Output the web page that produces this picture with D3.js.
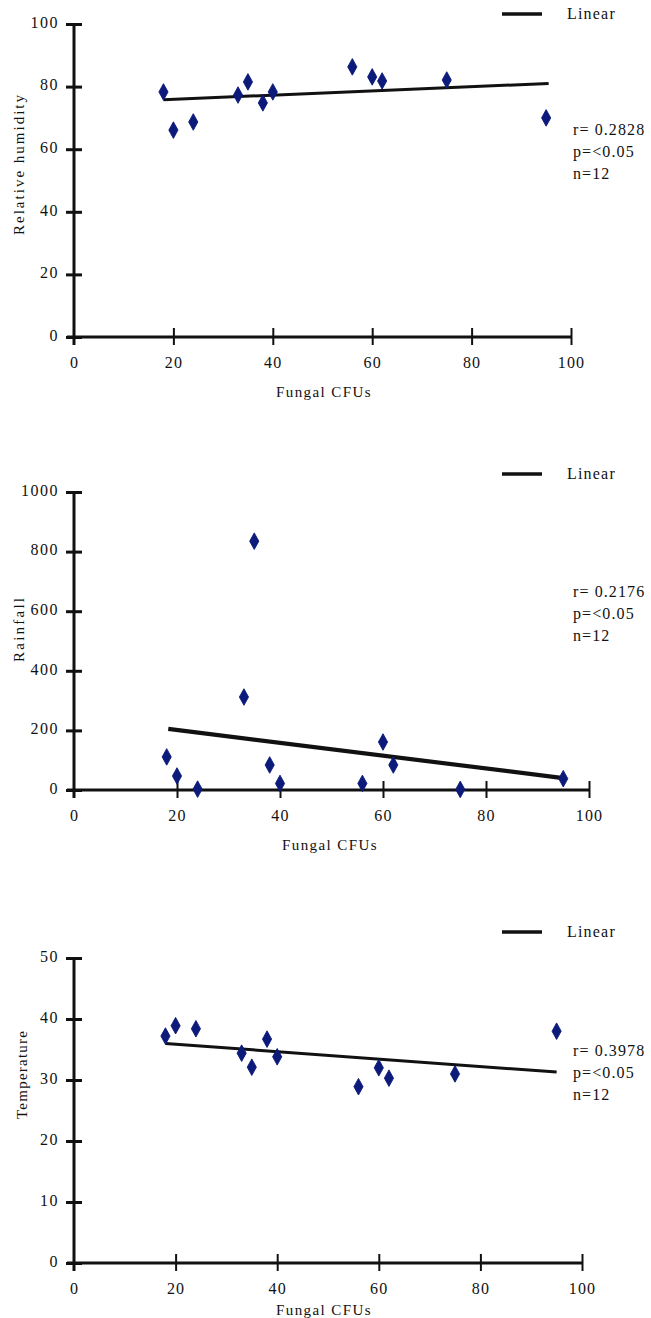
<!DOCTYPE html>
<html>
<head>
<meta charset="utf-8">
<script src="https://cdn.jsdelivr.net/npm/d3@7/dist/d3.min.js"></script>
<style>
  html, body { margin: 0; padding: 0; background: #ffffff; }
  svg { display: block; }
  svg text { font-family: "Liberation Serif", "DejaVu Serif", "Times New Roman", Times, serif !important; fill: #111; }
</style>
</head>
<body>
<svg id="chart" width="651" height="1318"></svg>
<script>
// ---- data ----
const fungalCFUs = [18, 20, 24, 33, 35, 38, 40, 56, 60, 62, 75, 95];
const humidity = [78.3, 66.1, 68.7, 77.3, 81.5, 74.8, 78.3, 86.3, 83.1, 81.8, 82.1, 70];
const rainfall = [111, 47, 3, 312, 835, 84, 22, 22, 161, 84, 2, 38];
const temperature = [37.2, 38.9, 38.4, 34.4, 32.1, 36.7, 33.8, 28.9, 32, 30.3, 31, 38];

const humidityFitX = [18, 95.5];
const humidityFitY = [75.8, 81];
const rainfallFitX = [18.3, 95];
const rainfallFitY = [205, 40];
const temperatureFitX = [18, 95];
const temperatureFitY = [36, 31.3];

const xTicks = [0, 20, 40, 60, 80, 100];
const humidityTicks = [0, 20, 40, 60, 80, 100];
const rainfallTicks = [0, 200, 400, 600, 800, 1000];
const temperatureTicks = [0, 10, 20, 30, 40, 50];

const xTitle = "Fungal CFUs";
const legendLabel = "Linear";
const humidityStats = ["r= 0.2828", "p=<0.05", "n=12"];
const rainfallStats = ["r= 0.2176", "p=<0.05", "n=12"];
const temperatureStats = ["r= 0.3978", "p=<0.05", "n=12"];

// ---- layout ----
const FONT = "Liberation Serif, DejaVu Serif, serif";
const panels = [
  { yTitle: "Relative humidity", values: humidity, fitX: humidityFitX, fitY: humidityFitY,
    yTicks: humidityTicks, stats: humidityStats,
    x0: 74, x1: 571, y0: 337, y1: 24, yMax: 100,
    yTitleX: 19, yTitleY: 165, yTitleLen: 140, xTitleX: 324, xTitleY: 397,
    legendY: 14, statsY: 135, lineW: 3 },
  { yTitle: "Rainfall", values: rainfall, fitX: rainfallFitX, fitY: rainfallFitY,
    yTicks: rainfallTicks, stats: rainfallStats,
    x0: 74, x1: 589, y0: 790, y1: 492, yMax: 1000,
    yTitleX: 19, yTitleY: 630, yTitleLen: 64, xTitleX: 330, xTitleY: 850,
    legendY: 474, statsY: 597, lineW: 4.2 },
  { yTitle: "Temperature", values: temperature, fitX: temperatureFitX, fitY: temperatureFitY,
    yTicks: temperatureTicks, stats: temperatureStats,
    x0: 74, x1: 582, y0: 1263, y1: 958, yMax: 50,
    yTitleX: 22, yTitleY: 1075, yTitleLen: 88, xTitleX: 324, xTitleY: 1315,
    legendY: 932, statsY: 1056, lineW: 3 }
];

const svg = d3.select("#chart");

panels.forEach(p => {
  const x = d3.scaleLinear().domain([0, 100]).range([p.x0, p.x1]);
  const y = d3.scaleLinear().domain([0, p.yMax]).range([p.y0, p.y1]);
  const g = svg.append("g");

  // y axis
  const yAxis = g.append("g")
    .attr("transform", `translate(${p.x0},0)`)
    .call(d3.axisLeft(y).tickValues(p.yTicks).tickFormat(d3.format("d")).tickSize(7).tickPadding(8));
  yAxis.attr("font-family", FONT);
  yAxis.select(".domain").remove();
  yAxis.selectAll(".tick line").attr("x1", 8).attr("x2", -8)
    .attr("stroke", "#111").attr("stroke-width", 3);
  yAxis.selectAll(".tick text")
    .attr("font-size", 16)
    .attr("letter-spacing", "1.5px").attr("dy", "0.2em").attr("fill", "#111");
  g.append("line")
    .attr("x1", p.x0).attr("x2", p.x0)
    .attr("y1", y(p.yMax) - 1).attr("y2", p.y0 + 8)
    .attr("stroke", "#111").attr("stroke-width", 3);

  // x axis
  const xAxis = g.append("g")
    .attr("transform", `translate(0,${p.y0})`)
    .call(d3.axisBottom(x).tickValues(xTicks).tickSize(8).tickPadding(12));
  xAxis.attr("font-family", FONT);
  xAxis.select(".domain").remove();
  xAxis.selectAll(".tick line").attr("y1", -9).attr("y2", 8)
    .attr("stroke", "#111").attr("stroke-width", 2);
  xAxis.selectAll(".tick").filter(d => d === 0).select("line").remove();
  xAxis.selectAll(".tick text")
    .attr("font-size", 16)
    .attr("letter-spacing", "1.2px").attr("fill", "#111");
  g.append("line")
    .attr("x1", p.x0 - 7).attr("x2", x(100) + 1)
    .attr("y1", p.y0).attr("y2", p.y0)
    .attr("stroke", "#111").attr("stroke-width", 3);

  // titles
  g.append("text")
    .attr("transform", `translate(${p.yTitleX},${p.yTitleY}) rotate(-90)`)
    .attr("text-anchor", "middle").attr("dy", "0.35em")
    .attr("font-size", 15)
    .attr("textLength", p.yTitleLen).attr("lengthAdjust", "spacing")
    .text(p.yTitle);
  g.append("text")
    .attr("x", p.xTitleX).attr("y", p.xTitleY)
    .attr("text-anchor", "middle")
    .attr("font-size", 15).attr("letter-spacing", "1.4px")
    .text(xTitle);

  // regression line
  const fit = p.fitX.map((v, i) => [v, p.fitY[i]]);
  g.append("path")
    .datum(fit)
    .attr("fill", "none").attr("stroke", "#111").attr("stroke-width", p.lineW)
    .attr("d", d3.line().x(d => x(d[0])).y(d => y(d[1])));

  // points
  const pts = fungalCFUs.map((v, i) => [v, p.values[i]]);
  g.selectAll("path.pt")
    .data(pts).enter().append("path")
    .attr("class", "pt")
    .attr("d", d3.symbol().type(d3.symbolDiamond).size(60))
    .attr("transform", d => `translate(${x(d[0])},${y(d[1])}) scale(1.1,1.15)`)
    .attr("fill", "#0c1a7a")
    .attr("stroke", "#0c1a7a").attr("stroke-width", 0.8).attr("stroke-linejoin", "round");

  // legend
  g.append("line")
    .attr("x1", 502).attr("x2", 542)
    .attr("y1", p.legendY).attr("y2", p.legendY)
    .attr("stroke", "#111").attr("stroke-width", 3.5);
  g.append("text")
    .attr("x", 567).attr("y", p.legendY + 5)
    .attr("font-size", 16).attr("letter-spacing", "1.2px")
    .text(legendLabel);

  // stats
  g.selectAll("text.stat")
    .data(p.stats).enter().append("text")
    .attr("class", "stat")
    .attr("x", 573).attr("y", (d, i) => p.statsY + i * 22)
    .attr("font-size", 16).attr("letter-spacing", "1.1px")
    .text(d => d);
});
</script>
</body>
</html>
